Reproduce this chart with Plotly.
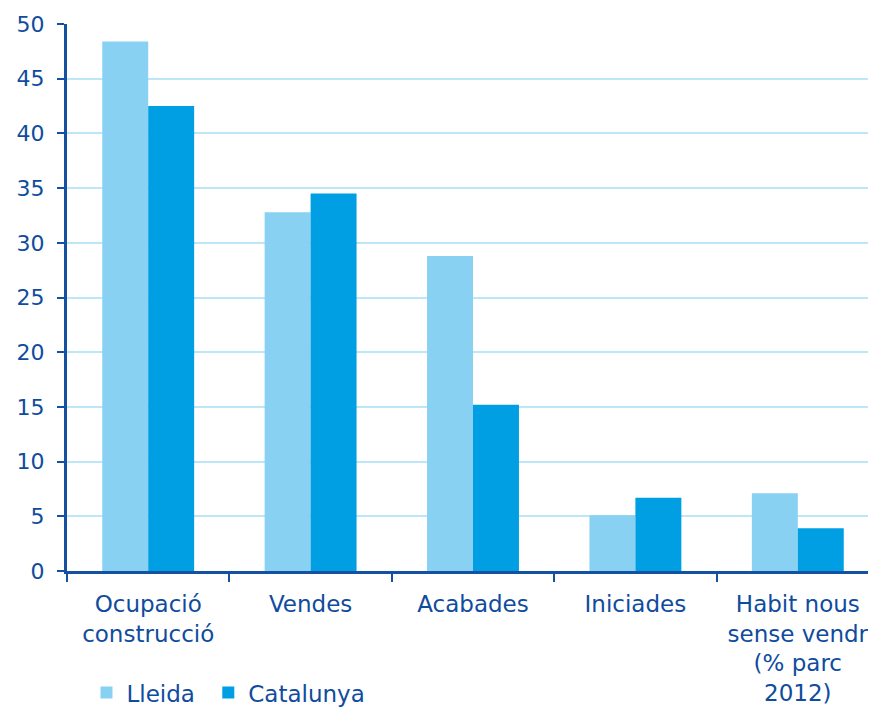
import plotly.graph_objects as go

categories = ["Ocupació<br>construcció", "Vendes", "Acabades", "Iniciades",
              "Habit nous<br>sense vendr<br>(% parc<br>2012)"]
lleida = [48.4, 32.8, 28.8, 5.1, 7.1]
catalunya = [42.5, 34.5, 15.2, 6.7, 3.9]
y_ticks = [0, 5, 10, 15, 20, 25, 30, 35, 40, 45, 50]

TXT = "#0F4C9E"
AX = "#1451A0"
FONT = "DejaVu Sans"
FS = 22
FS_CAT = 23

fig = go.Figure()
fig.add_trace(go.Bar(x=categories, y=lleida, name="Lleida", marker_color="#89D1F3",
                     marker_line_width=0, legend="legend"))
fig.add_trace(go.Bar(x=categories, y=catalunya, name="Catalunya", marker_color="#009FE3",
                     marker_line_width=0, legend="legend2"))

leg_common = dict(orientation="h", xanchor="left", y=-0.183, yanchor="top",
                  font=dict(size=FS_CAT, color=TXT), itemwidth=30,
                  bgcolor="rgba(0,0,0,0)")

fig.update_layout(
    width=876, height=707,
    margin=dict(l=59, r=5, t=16, b=144, autoexpand=False),
    paper_bgcolor="white", plot_bgcolor="white",
    barmode="group", bargap=0.434, bargroupgap=0,
    font=dict(family=FONT, size=FS, color=TXT),
    showlegend=True,
    legend=dict(x=0.024, **leg_common),
    legend2=dict(x=0.174, **leg_common),
)
fig.update_xaxes(
    type="category", range=[-0.5, 4.5], automargin=False,
    showline=True, linecolor=AX, linewidth=3,
    ticks="outside", tickson="boundaries", ticklen=8, tickwidth=2, tickcolor=AX,
    showgrid=False, ticklabelstandoff=10, tickfont=dict(size=FS_CAT, color=TXT),
)
fig.update_yaxes(
    range=[0, 50], tickvals=y_ticks, automargin=False,
    showline=True, linecolor=AX, linewidth=3,
    ticks="outside", ticklen=7, tickwidth=2, tickcolor=AX,
    showgrid=True, gridcolor="#BDE6F7", gridwidth=2,
    zeroline=False, ticklabelstandoff=8,
    tickfont=dict(size=FS, color=TXT),
)

fig.write_html("out.html")
